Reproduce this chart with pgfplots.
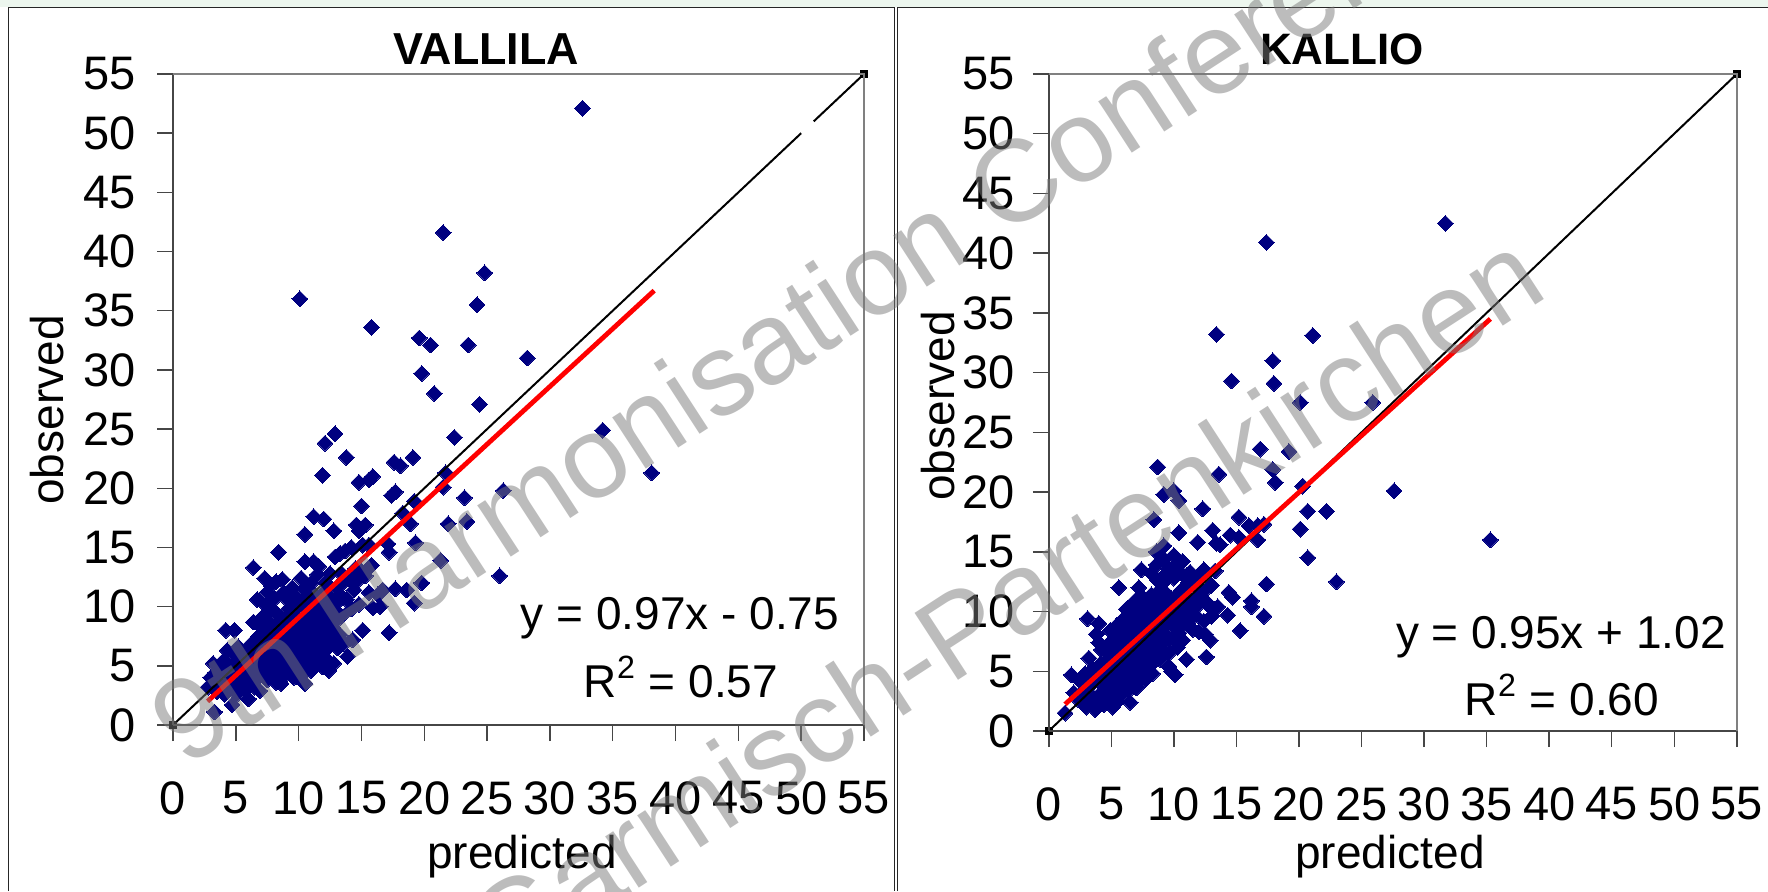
\documentclass[border=0pt]{standalone}
\usepackage{fontspec}
\setmainfont{Liberation Sans}
\usepackage{pgfplots}
\pgfplotsset{compat=1.18}
\definecolor{mknavy}{RGB}{0,0,128}
\definecolor{darkax}{RGB}{70,70,70}
\definecolor{wm}{RGB}{122,122,122}
\definecolor{paleg}{RGB}{236,246,238}
\newcommand{\lbl}{\fontsize{23}{27}\selectfont}
\pgfplotsset{panel/.style={
  scale only axis, anchor=south west, clip=false, clip mode=individual,
  xmin=0,xmax=55,ymin=0,ymax=55,
  xtick={0,5,...,55},ytick={0,5,...,55},
  xtick pos=bottom,ytick pos=left,tick align=outside,
  major tick length=8pt,
  tick style={darkax,line width=0.7pt},
  /pgf/number format/assume math mode=true,
  tick label style={font=\fontsize{23.5}{28}\selectfont,inner sep=0pt},
  xticklabel style={yshift=-20pt},
  axis line style={draw=none},
  },
  scat/.style={only marks,mark=square*,mark size=2.8pt,
    mark options={rotate=45,fill=mknavy,draw=mknavy,line width=0pt}},
  diag/.style={black,line width=1pt,mark=none},
  corner/.style={only marks,mark=square*,mark size=1.8pt,mark options={fill=black,draw=black}},
  fit/.style={red,line width=2.4pt,mark=none},
}
\begin{document}
\begin{tikzpicture}[x=0.5pt,y=0.5pt]
\useasboundingbox (0,0) rectangle (1768,891);
\fill[paleg] (0,884) rectangle (1768,891);
\draw[black!85,line width=0.8pt] (8.5,0) -- (8.5,883.5) -- (894.5,883.5) -- (894.5,0);
\draw[black!85,line width=0.8pt] (897.5,0) -- (897.5,883.5) -- (1768,883.5);

\begin{axis}[panel,width=345.5pt,height=325.5pt,at={(86.5pt,83pt)},yticklabel style={xshift=-10.4pt}]
\addplot[scat] coordinates {
(32.6,52.1)(21.5,41.6)(24.8,38.2)(10.1,36.0)(24.2,35.5)(15.8,33.6)(19.6,32.7)(20.5,32.1)(23.5,32.1)(28.2,31.0)
(19.8,29.7)(20.8,28.0)(24.4,27.1)(22.4,24.3)(34.2,24.9)(38.1,21.3)(12.9,24.6)(12.1,23.8)(13.8,22.6)(11.9,21.1)
(14.8,20.5)(15.9,21.0)(15.6,20.7)(17.6,22.2)(18.1,21.9)(19.1,22.6)(17.7,19.7)(17.4,19.4)(21.7,21.3)(21.5,20.1)
(19.2,18.9)(18.3,17.9)(18.9,17.0)(23.2,19.2)(26.3,19.8)(21.9,17.0)(23.4,17.2)(19.3,15.4)(21.3,13.9)(26.0,12.6)
(19.8,12.0)(15.0,18.5)(11.2,17.6)(12.0,17.4)(12.8,16.4)(10.5,16.1)(14.6,16.9)(15.3,16.9)(14.8,16.4)(8.4,14.6)
(6.4,13.3)(17.1,15.3)(17.2,14.6)(15.1,15.2)(15.6,15.2)(13.3,14.5)(12.9,14.2)(13.7,14.7)(14.2,15.0)(10.5,13.8)
(11.2,13.8)(11.6,13.4)(15.8,13.5)(6.7,10.6)(7.3,12.4)(15.1,8.0)(17.2,7.8)(19.2,10.3)(18.6,11.4)(17.7,11.5)
(16.7,11.4)(16.3,11.0)(15.9,9.9)(16.5,10.0)(13.9,5.8)(13.1,6.5)(14.3,7.2)(13.6,6.9)(12.4,4.6)(10.5,3.5)
(9.8,4.1)(8.6,3.5)(6.9,2.9)(6.0,2.2)(4.7,1.7)(3.3,1.1)(4.2,8.0)(4.9,8.0)(6.4,8.7)(4.3,6.3)(5.2,6.6)(3.2,5.2)(2.8,3.2)
(3.0,4.0)(3.5,2.8)(3.6,3.6)(3.9,4.6)(4.1,2.6)(4.2,3.4)(4.0,5.4)(4.6,4.1)(4.7,5.0)(4.5,3.0)(5.0,5.8)(5.1,2.6)
(5.3,3.6)(5.4,4.4)(5.5,5.2)(5.6,6.0)(5.7,3.0)(6.0,3.8)(6.1,4.6)(6.2,5.4)(6.3,6.2)(6.4,7.0)(6.5,3.2)(6.8,4.2)
(6.9,5.0)(6.8,5.8)(7.0,6.6)(6.9,7.6)(6.9,8.4)(7.2,9.2)(7.4,10.1)(7.5,11.2)(7.5,3.8)(7.5,4.6)(7.6,5.4)(7.4,6.2)
(7.6,7.0)(7.5,7.8)(7.6,8.6)(7.8,11.8)(7.9,9.8)(8.1,10.7)(8.2,12.1)(8.2,3.6)(8.3,4.4)(8.1,5.2)(8.3,6.0)(8.2,6.8)
(8.4,7.6)(8.2,8.4)(8.4,9.2)(8.8,11.2)(8.7,12.3)(8.9,4.2)(9.0,5.0)(8.9,5.8)(9.1,6.6)(8.9,7.4)(9.1,8.2)(9.0,9.0)
(9.2,9.8)(9.1,10.6)(9.5,11.6)(9.6,4.0)(9.6,4.8)(9.7,5.6)(9.5,6.4)(9.7,7.2)(9.5,8.0)(9.7,8.8)(9.8,10.0)(9.8,10.8)
(10.3,4.3)(10.2,5.1)(10.4,5.9)(10.2,6.7)(10.4,7.5)(10.3,8.3)(10.5,9.1)(10.4,9.9)(10.5,10.7)(10.4,11.5)(10.2,12.4)
(11.0,4.6)(11.1,5.4)(10.9,6.2)(11.1,7.0)(11.0,7.8)(11.2,8.6)(11.0,9.4)(11.1,10.2)(11.3,11.0)(11.5,12.7)(11.6,5.2)
(11.7,6.0)(11.6,6.8)(11.8,7.6)(11.6,8.4)(11.8,9.2)(11.7,10.0)(12.2,5.6)(12.4,6.6)(12.3,7.4)(12.5,8.2)(12.3,9.0)
(12.4,9.8)(12.5,10.6)(12.5,12.8)(12.9,8.0)(13.0,8.8)(13.0,9.6)(13.1,10.4)(13.0,11.6)(13.4,12.8)(13.8,10.6)(14.4,11.4)
(14.0,12.4)(14.5,13.2)(14.2,9.8)(14.8,10.2)(14.5,12.0)(15.0,13.0)(15.3,12.6)(15.6,11.2)
(7.2,5.0)(7.9,4.2)(7.9,6.4)(8.7,5.5)(8.6,7.0)(8.7,8.8)(9.3,4.6)(9.3,7.8)(9.4,9.4)(10.0,5.4)(10.0,7.1)(10.0,8.7)
(10.0,10.3)(10.7,4.8)(10.7,6.6)(10.8,8.2)(10.8,9.8)(10.8,11.2)(11.4,5.8)(11.4,7.4)(11.4,9.0)(11.4,10.6)(12.0,6.4)
(12.0,8.0)(12.0,9.6)(12.0,11.2)(11.9,4.9)(12.7,7.0)(12.7,9.0)(12.7,10.4)(12.8,5.2)(13.3,7.6)(13.4,9.2)(13.3,11.0)
(6.4,5.0)(6.2,6.8)(5.8,4.0)(5.8,5.6)(6.6,3.8)(5.0,3.2)(5.0,4.6)(4.3,4.4)(3.4,4.4)(4.8,3.6)(7.2,7.3)(7.2,8.1)(8.0,8.0)
(9.3,5.4)(13.5,12.0)(12.2,12.0)(11.0,12.0)(9.5,10.4)
};
\addplot[diag] coordinates {(0,0)(50,50)};
\addplot[diag] coordinates {(51,51)(55,55)};
\addplot[corner] coordinates {(0,0)(55,55)};
\addplot[fit] coordinates {(2.75,2.0)(38.3,36.7)};
\end{axis}

\begin{axis}[panel,width=344pt,height=328.5pt,at={(524.4pt,80pt)},yticklabel style={xshift=-8.7pt}]
\addplot[scat] coordinates {
(31.7,42.5)(17.4,40.9)(13.4,33.2)(21.1,33.1)(17.9,31.0)(14.6,29.3)(18.0,29.1)(20.1,27.5)(25.9,27.5)
(16.9,23.6)(19.2,23.4)(17.9,21.9)(18.1,20.8)(13.6,21.5)(8.7,22.1)(20.3,20.5)(27.6,20.1)(35.3,16.0)
(9.2,19.8)(10.0,20.1)(10.4,19.3)(12.3,18.6)(15.2,17.9)(8.4,17.7)(10.4,16.6)(13.1,16.8)(11.9,15.8)
(13.7,15.6)(13.4,15.7)(14.5,16.4)(15.2,16.2)(16.0,17.2)(16.7,17.2)(17.2,17.3)(16.7,16.0)(20.7,18.4)
(22.2,18.4)(20.1,16.9)(20.7,14.5)(23.0,12.5)(17.4,12.3)(14.4,11.6)(14.7,11.2)(16.2,10.9)(16.2,10.4)
(14.3,9.7)(17.2,9.6)(15.3,8.4)(12.9,7.6)(12.6,6.2)(11.0,6.0)(10.1,4.7)(9.8,5.0)(6.5,2.4)(1.3,1.5)
(3.1,9.4)(4.0,9.0)(3.8,8.1)(3.2,6.1)(1.8,4.7)(5.6,12.0)(7.2,12.0)(7.4,13.5)(8.2,13.2)(8.6,15.0)(9.2,15.5)
(12.4,13.5)(13.3,13.4)(12.9,10.4)(13.5,10.4)(13.0,9.6)(12.4,9.2)(2.0,3.2)(2.5,4.2)(2.4,2.6)(2.8,3.4)(2.9,4.8)
(3.0,2.0)(3.3,2.7)(3.4,3.9)(3.5,5.2)(3.7,1.8)(3.9,2.9)(4.0,4.4)(4.1,5.6)(4.2,6.8)(4.0,7.4)(4.4,2.2)(4.6,3.4)
(4.6,4.8)(4.7,6.0)(4.8,7.3)(4.9,8.4)(5.1,2.0)(5.2,3.0)(5.2,4.2)(5.3,5.3)(5.2,6.5)(5.4,7.6)(5.4,8.8)(5.7,2.9)
(5.8,3.9)(5.9,5.0)(5.8,6.1)(6.0,7.2)(5.9,8.2)(6.0,9.4)(6.2,10.2)(6.4,3.4)(6.5,4.5)(6.6,5.6)(6.4,6.7)(6.6,7.8)
(6.5,8.9)(6.7,9.9)(6.9,10.9)(7.0,3.6)(7.1,4.8)(7.2,5.8)(7.1,6.9)(7.3,8.0)(7.2,9.1)(7.3,10.1)(7.5,11.2)(7.7,4.3)
(7.8,5.3)(7.7,6.4)(7.9,7.5)(7.8,8.6)(8.0,9.6)(7.9,10.8)(8.3,4.8)(8.4,5.9)(8.3,7.0)(8.5,8.1)(8.4,9.2)(8.6,10.3)
(8.5,11.4)(8.7,12.6)(8.9,6.0)(9.0,7.2)(9.0,8.3)(9.1,9.4)(9.0,10.5)(9.2,11.6)(9.2,14.4)(9.6,5.4)(9.7,6.6)(9.6,7.8)
(9.8,8.9)(9.7,10.0)(9.8,11.1)(10.0,12.8)(10.1,13.9)(10.0,14.7)(10.3,7.0)(10.4,8.2)(10.3,9.4)(10.5,10.5)(10.6,13.2)
(10.7,14.2)(11.0,9.2)(11.0,10.2)(10.9,11.4)(11.2,12.4)(11.3,13.3)(11.5,8.5)(11.7,9.7)(11.6,11.0)(11.9,12.2)(12.0,12.9)
(12.3,11.6)(12.6,10.8)(13.0,12.2)(12.5,8.1)(12.0,8.3)
(3.2,3.2)(3.6,4.5)(4.3,3.9)(4.3,5.2)(4.5,2.8)(4.9,5.0)(4.9,3.8)(5.5,2.5)(5.5,3.5)(5.5,4.7)(5.5,5.9)(5.5,7.0)(5.0,6.4)
(4.6,7.0)(6.1,4.2)(6.2,5.3)(6.1,6.4)(6.2,7.5)(6.3,8.6)(6.3,9.6)(6.8,4.0)(6.8,5.2)(6.9,6.3)(6.8,7.4)(6.9,8.5)(7.0,9.6)
(7.4,4.4)(7.5,5.5)(7.4,6.6)(7.6,7.7)(7.5,8.8)(7.6,10.0)(8.1,5.5)(8.1,6.7)(8.2,7.8)(8.1,9.0)(8.2,10.2)(8.2,11.4)(8.7,6.4)
(8.7,7.6)(8.8,8.8)(8.8,10.0)(8.8,11.2)(9.3,6.6)(9.3,7.8)(9.4,9.0)(9.4,10.3)(9.4,11.5)(9.5,12.8)(9.6,13.6)(8.6,13.9)
(10.0,7.6)(10.0,8.8)(10.1,10.0)(10.1,11.2)(10.0,9.4)(10.7,7.6)(10.7,8.9)(10.7,10.1)(11.3,9.8)(11.3,11.0)(10.6,11.8)
(9.2,13.0)(9.0,12.3)(11.0,13.0)(11.8,10.4)(12.1,11.3)
};
\addplot[diag] coordinates {(0,0)(55,55)};
\addplot[corner] coordinates {(0,0)(55,55)};
\addplot[fit] coordinates {(1.3,2.24)(35.3,34.5)};
\end{axis}

% axis frame lines
\draw[darkax,line width=1pt] (173,891-725) -- (173,891-74);
\draw[darkax,line width=1pt] (173,891-725) -- (864,891-725);
\draw[black!50,line width=1pt] (173,891-74) -- (864,891-74) -- (864,891-725);
\draw[darkax,line width=1pt] (1048.8,891-731) -- (1048.8,891-74);
\draw[darkax,line width=1pt] (1048.8,891-731) -- (1736.8,891-731);
\draw[black!50,line width=1pt] (1048.8,891-74) -- (1736.8,891-74) -- (1736.8,891-731);

\node[font=\fontsize{22.4}{26}\selectfont\bfseries,inner sep=0pt] at (486,891-49) {VALLILA};
\node[font=\fontsize{22}{26}\selectfont\bfseries,inner sep=0pt] at (1342,891-49) {KALLIO};
\node[font=\lbl,inner sep=0pt,rotate=90] at (47,891-410) {observed};
\node[font=\lbl,inner sep=0pt,rotate=90] at (938,891-406) {observed};
\node[font=\lbl,inner sep=0pt] at (522,891-857) {predicted};
\node[font=\lbl,inner sep=0pt] at (1390,891-857) {predicted};
\node[font=\lbl,inner sep=0pt] at (680,891-618) {y = 0.97x - 0.75};
\node[font=\lbl,inner sep=0pt] at (681,891-677) {R\textsuperscript{2} = 0.57};
\node[font=\lbl,inner sep=0pt] at (1561,891-637) {y = 0.95x + 1.02};
\node[font=\lbl,inner sep=0pt] at (1562,891-695) {R\textsuperscript{2} = 0.60};

% watermark
\node[font=\fontsize{58}{66}\selectfont,text=wm,text opacity=0.5,inner sep=0pt,anchor=base west,rotate=33] at (185,122) {9th Harmonisation Conference};
\node[font=\fontsize{58}{66}\selectfont,text=wm,text opacity=0.5,inner sep=0pt,anchor=base west,rotate=33] at (502,-86) {Garmisch-Partenkirchen};
\end{tikzpicture}
\end{document}
